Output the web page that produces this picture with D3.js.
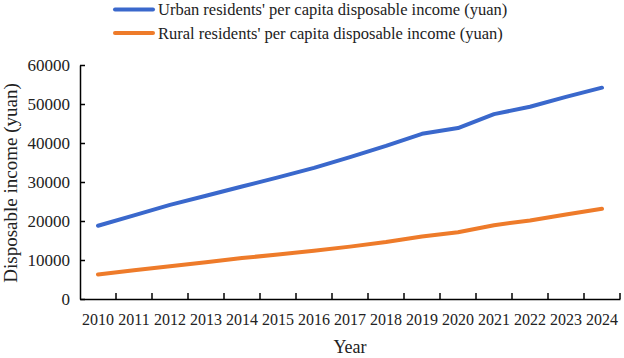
<!DOCTYPE html>
<html>
<head>
<meta charset="utf-8">
<script src="https://cdn.jsdelivr.net/npm/d3@7"></script>
<style>
  body { margin: 0; background: #fff; }
  svg, text { font-family: "Liberation Serif", "Times New Roman", serif; fill: #222; }
</style>
</head>
<body>
<svg id="chart" width="624" height="358"></svg>
<script>
const years = ["2010", "2011", "2012", "2013", "2014", "2015", "2016", "2017",
  "2018", "2019", "2020", "2021", "2022", "2023", "2024"];
const urban = [18779, 21427, 24127, 26467, 28844, 31195, 33616, 36396,
  39251, 42359, 43834, 47412, 49283, 51821, 54188];
const rural = [6272, 7394, 8389, 9430, 10489, 11422, 12363, 13432,
  14617, 16021, 17131, 18931, 20133, 21691, 23119];
const seriesNames = [
  "Urban residents' per capita disposable income (yuan)",
  "Rural residents' per capita disposable income (yuan)"
];
const yTicks = [0, 10000, 20000, 30000, 40000, 50000, 60000];

const colors = ["#3a68cc", "#ee7b2a"];
const margin = { left: 80, right: 4, top: 65, bottom: 59 };
const width = 624, height = 358;

const svg = d3.select("#chart");

const x = d3.scaleBand().domain(years).range([margin.left, width - margin.right]);
const y = d3.scaleLinear().domain([0, 60000]).range([height - margin.bottom, margin.top]);

// y axis
const yAxis = svg.append("g")
  .attr("transform", `translate(${margin.left},0)`)
  .call(d3.axisLeft(y).tickValues(yTicks).tickFormat(d3.format("d"))
    .tickSizeInner(-5).tickSizeOuter(0).tickPadding(10))
  .attr("font-family", null).attr("font-size", null);
yAxis.select(".domain").attr("stroke", "#000").attr("stroke-width", 1.5);
yAxis.selectAll(".tick line").attr("stroke", "#000").attr("stroke-width", 1.5);
yAxis.selectAll(".tick text").attr("font-size", 17).attr("fill", "#222");

// x axis: labels at band centres, tick marks on band edges
const xAxis = svg.append("g")
  .attr("transform", `translate(0,${height - margin.bottom})`)
  .call(d3.axisBottom(x).tickSize(0).tickPadding(15))
  .attr("font-family", null).attr("font-size", null);
xAxis.select(".domain").attr("stroke", "#000").attr("stroke-width", 1.5);
xAxis.selectAll(".tick text").attr("font-size", 16).attr("fill", "#222");
xAxis.selectAll(".edge")
  .data(years.slice(1).concat(["end"]))
  .join("line")
  .attr("x1", (d, i) => i < years.length - 1 ? x(d) : x.range()[1])
  .attr("x2", (d, i) => i < years.length - 1 ? x(d) : x.range()[1])
  .attr("y1", 0).attr("y2", -6)
  .attr("stroke", "#000").attr("stroke-width", 1.5);

// axis titles
svg.append("text")
  .attr("transform", `translate(17,${(y(0) + y(60000)) / 2 + 1}) rotate(-90)`)
  .attr("text-anchor", "middle")
  .attr("font-size", 19)
  .text("Disposable income (yuan)");
svg.append("text")
  .attr("x", (x.range()[0] + x.range()[1]) / 2)
  .attr("y", 353)
  .attr("text-anchor", "middle")
  .attr("font-size", 18)
  .text("Year");

// lines
const line = d3.line()
  .x((d, i) => x(years[i]) + x.bandwidth() / 2)
  .y(d => y(d));

[urban, rural].forEach((vals, k) => {
  svg.append("path")
    .datum(vals)
    .attr("fill", "none")
    .attr("stroke", colors[k])
    .attr("stroke-width", 4)
    .attr("stroke-linejoin", "round")
    .attr("stroke-linecap", "round")
    .attr("d", line);
});

// legend
const legend = svg.append("g");
seriesNames.forEach((name, k) => {
  const ly = 9.5 + k * 23.5;
  legend.append("line")
    .attr("x1", 115).attr("x2", 153)
    .attr("y1", ly).attr("y2", ly)
    .attr("stroke", colors[k]).attr("stroke-width", 4)
    .attr("stroke-linecap", "round");
  legend.append("text")
    .attr("x", 158).attr("y", ly)
    .attr("dy", "0.35em")
    .attr("font-size", 16.5)
    .text(name);
});
</script>
</body>
</html>
